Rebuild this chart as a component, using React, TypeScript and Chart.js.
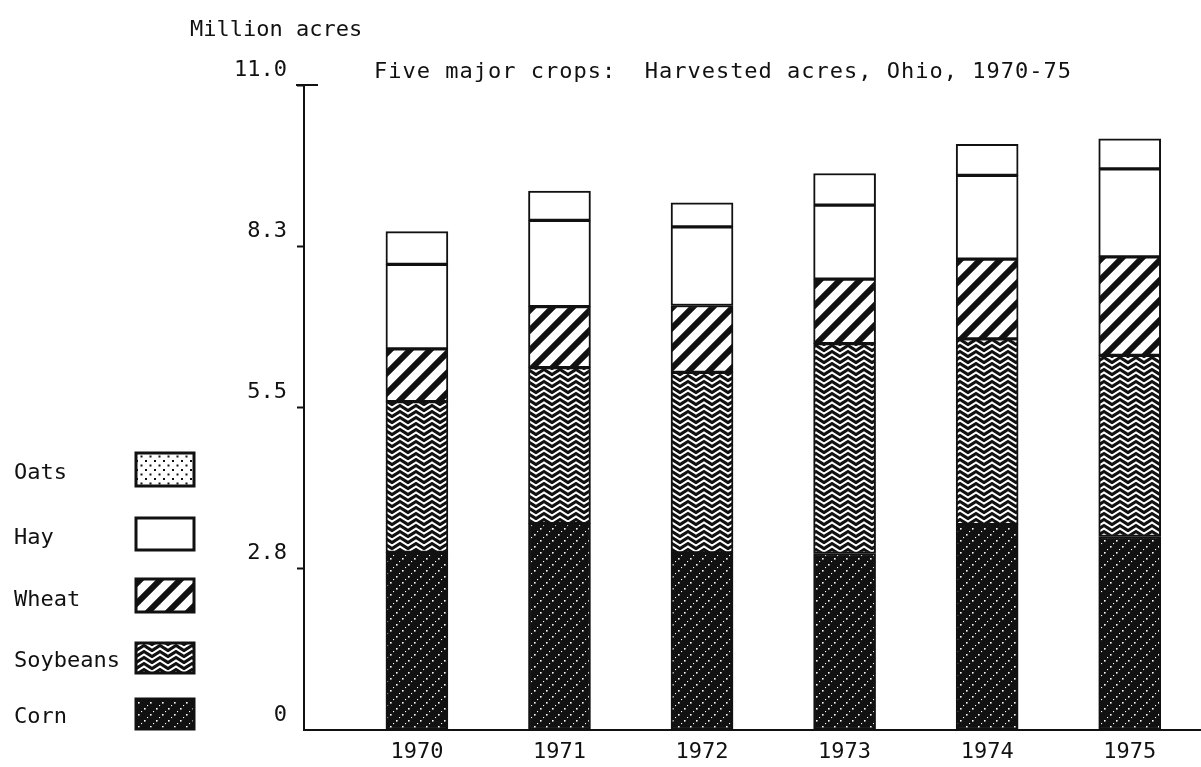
import React, { useEffect, useRef } from 'react';
import { Chart, registerables } from 'chart.js';

Chart.register(...registerables);

const years = [1970, 1971, 1972, 1973, 1974, 1975];
const yearLabels = ['1970', '1971', '1972', '1973', '1974', '1975'];
const corn = [3.03, 3.52, 3.02, 3.01, 3.5, 3.3];
const soybeans = [2.57, 2.66, 3.08, 3.58, 3.17, 3.09];
const wheat = [0.9, 1.04, 1.14, 1.1, 1.36, 1.68];
const hay = [1.44, 1.47, 1.34, 1.26, 1.43, 1.5];
const oats = [0.56, 0.5, 0.41, 0.54, 0.53, 0.51];
const yTickValues = [0, 2.75, 5.5, 8.25, 11];
const yTickLabels = ['0', '2.8', '5.5', '8.3', '11.0'];
const legendNames = ['Oats', 'Hay', 'Wheat', 'Soybeans', 'Corn'];
const chartTitle = 'Five major crops:  Harvested acres, Ohio, 1970-75';
const yCaption = 'Million acres';

const INK = '#111';
const FONT = '"DejaVu Sans Mono", "Liberation Mono", monospace';

function tile(w: number, h: number, draw: (c: CanvasRenderingContext2D) => void) {
  const cv = document.createElement('canvas');
  cv.width = w;
  cv.height = h;
  const c = cv.getContext('2d')!;
  draw(c);
  const ctx = document.createElement('canvas').getContext('2d')!;
  return ctx.createPattern(cv, 'repeat') as CanvasPattern;
}

function makePatterns() {
  const cornP = tile(12, 12, (c) => {
    c.fillStyle = INK;
    c.fillRect(0, 0, 12, 12);
    c.fillStyle = '#fff';
    c.fillRect(0, 0, 1.6, 1.6);
    c.fillRect(6, 6, 1.6, 1.6);
    c.fillRect(3, 9, 1.1, 1.1);
    c.fillRect(9, 3, 1.1, 1.1);
  });
  const soyP = tile(16, 6, (c) => {
    c.fillStyle = INK;
    c.fillRect(0, 0, 16, 6);
    c.strokeStyle = '#fff';
    c.lineWidth = 2;
    for (const dy of [-6, 0, 6]) {
      c.beginPath();
      c.moveTo(-8, 5.5 + dy);
      c.lineTo(0, 0.5 + dy);
      c.lineTo(8, 5.5 + dy);
      c.lineTo(16, 0.5 + dy);
      c.lineTo(24, 5.5 + dy);
      c.stroke();
    }
  });
  const wheatP = tile(20, 20, (c) => {
    c.fillStyle = '#fff';
    c.fillRect(0, 0, 20, 20);
    c.strokeStyle = INK;
    c.lineWidth = 6;
    for (const off of [-20, 0, 20]) {
      c.beginPath();
      c.moveTo(-5 + off, 25);
      c.lineTo(25 + off, -5);
      c.stroke();
    }
  });
  const oatsP = tile(9, 9, (c) => {
    c.fillStyle = '#fff';
    c.fillRect(0, 0, 9, 9);
    c.fillStyle = INK;
    c.fillRect(1, 1, 2, 2);
    c.fillRect(5.5, 5.5, 2, 2);
  });
  return { corn: cornP, soy: soyP, wheat: wheatP, oats: oatsP };
}

export default function App() {
  const ref = useRef<HTMLCanvasElement>(null);

  useEffect(() => {
    const canvas = ref.current!;
    const p = makePatterns();
    const fills: Record<string, any> = {
      Oats: p.oats,
      Hay: '#fff',
      Wheat: p.wheat,
      Soybeans: p.soy,
      Corn: p.corn,
    };

    const annot = {
      id: 'annot',
      afterDraw(chart: any) {
        const ctx: CanvasRenderingContext2D = chart.ctx;
        ctx.save();
        ctx.fillStyle = INK;
        ctx.textBaseline = 'middle';
        ctx.textAlign = 'left';
        ctx.font = `22px ${FONT}`;
        ctx.fillText(yCaption, 190, 30);
        (ctx as any).letterSpacing = '1px';
        ctx.fillText(chartTitle, 374, 72);
        (ctx as any).letterSpacing = '0px';

        // T mark at top of y axis
        const ys = chart.scales.y;
        const yTop = ys.getPixelForValue(11);
        ctx.strokeStyle = INK;
        ctx.lineWidth = 2;
        ctx.beginPath();
        ctx.moveTo(ys.right - 8, yTop);
        ctx.lineTo(ys.right + 14, yTop);
        ctx.stroke();

        // legend
        const rows = [
          { ty: 473, by: 453, bh: 33 },
          { ty: 538, by: 518, bh: 32 },
          { ty: 600, by: 579, bh: 33 },
          { ty: 661, by: 643, bh: 30 },
          { ty: 717, by: 699, bh: 30 },
        ];
        legendNames.forEach((name, i) => {
          const r = rows[i];
          ctx.fillStyle = INK;
          ctx.fillText(name, 14, r.ty);
          ctx.fillStyle = fills[name];
          ctx.fillRect(136, r.by, 58, r.bh);
          ctx.strokeStyle = INK;
          ctx.lineWidth = 3;
          ctx.strokeRect(136, r.by, 58, r.bh);
        });
        ctx.restore();
      },
    };

    const mk = (label: string, values: number[], bg: any) => ({
      label,
      data: years.map((x, i) => ({ x, y: values[i] })),
      backgroundColor: bg,
      borderColor: INK,
      borderWidth: 2,
      borderSkipped: false as const,
      barThickness: 62,
      stack: 'all',
    });

    const chart = new Chart(canvas, {
      type: 'bar',
      data: {
        datasets: [
          mk('Corn', corn, p.corn),
          mk('Soybeans', soybeans, p.soy),
          mk('Wheat', wheat, p.wheat),
          mk('Hay', hay, '#fff'),
          mk('Oats', oats, '#fff'),
        ] as any,
      },
      options: {
        animation: false,
        responsive: false,
        devicePixelRatio: 1,
        layout: { padding: { top: 85, left: 0, right: 0, bottom: 0 } },
        plugins: {
          legend: { display: false },
          title: { display: false },
          tooltip: { enabled: false },
        },
        scales: {
          x: {
            type: 'linear',
            min: 1969.208,
            max: 1975.5,
            offset: false,
            grid: { display: true, drawOnChartArea: false, drawTicks: false },
            border: { display: true, color: INK, width: 2 },
            afterBuildTicks: (s: any) => {
              s.ticks = years.map((v) => ({ value: v }));
            },
            afterFit: (s: any) => {
              s.height = 37;
            },
            ticks: {
              autoSkip: false,
              maxRotation: 0,
              padding: 9,
              color: INK,
              font: { family: FONT, size: 22 },
              callback: (v: any) => {
                const idx = years.indexOf(Number(v));
                return idx >= 0 ? yearLabels[idx] : '';
              },
            },
          },
          y: {
            type: 'linear',
            stacked: true,
            min: 0,
            max: 11,
            grid: {
              display: true,
              drawOnChartArea: false,
              drawTicks: true,
              tickLength: 7,
              tickWidth: 2,
              tickColor: (c: any) => (c.tick && c.tick.value === 0 ? 'rgba(0,0,0,0)' : INK),
            },
            border: { display: true, color: INK, width: 2 },
            afterBuildTicks: (s: any) => {
              s.ticks = yTickValues.map((v) => ({ value: v }));
            },
            afterFit: (s: any) => {
              s.width = 304;
            },
            ticks: {
              padding: 10,
              labelOffset: -15,
              color: INK,
              font: { family: FONT, size: 22 },
              callback: (_v: any, i: number) => yTickLabels[i],
            },
          },
        },
      } as any,
      plugins: [annot],
    });
    return () => chart.destroy();
  }, []);

  return (
    <div style={{ position: 'fixed', left: 0, top: 0, width: 1201, height: 767, background: '#fff' }}>
      <canvas ref={ref} width={1201} height={767} style={{ display: 'block' }} />
    </div>
  );
}
